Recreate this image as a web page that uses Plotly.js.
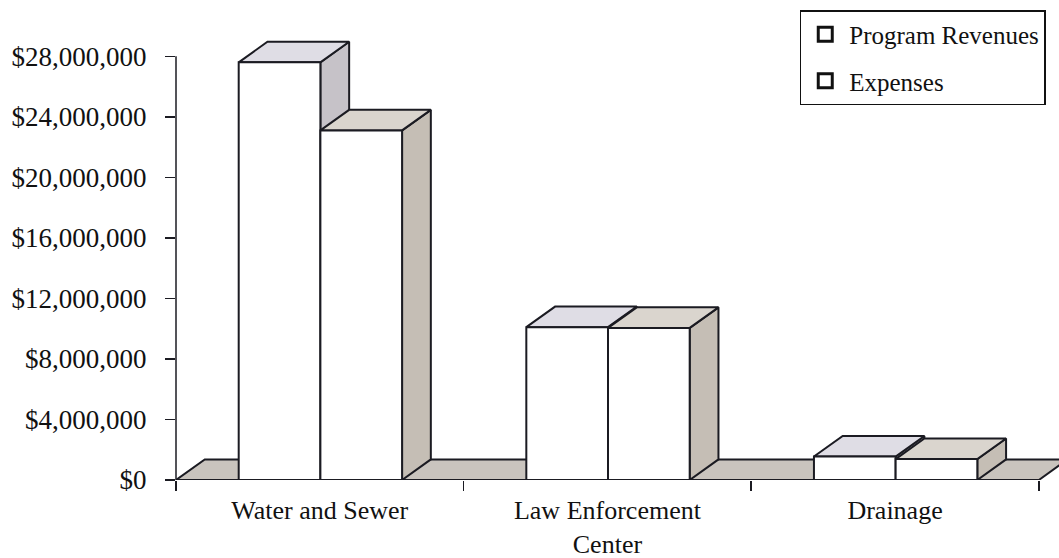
<!DOCTYPE html>
<html>
<head>
<meta charset="utf-8">
<script src="https://cdn.plot.ly/plotly-3.0.1.min.js"></script>
<style>
  html, body { margin: 0; padding: 0; background: #ffffff; }
  #chart { width: 1059px; height: 558px; }
</style>
</head>
<body>
<div id="chart"></div>
<script>
// ---- data ----
const categories = ['Water and Sewer', 'Law Enforcement<br>Center', 'Drainage'];
const seriesNames = ['Program Revenues', 'Expenses'];
const programRevenues = [27.6e6, 10.1e6, 1.55e6];
const expenses = [23.1e6, 10.05e6, 1.38e6];
const yTickValues = [0, 4e6, 8e6, 12e6, 16e6, 20e6, 24e6, 28e6];

// ---- styling / pseudo-3D geometry ----
const BAR_W = 0.284;      // bar width in category units
const DEPTH_X = 0.1;      // depth offset in category units
const DEPTH_Y = 1.36e6;   // depth offset in value units
const EDGE = '#1b1b22';
const FONT = 'Liberation Serif, Times New Roman, serif';

const catIdx = categories.map((_, i) => i);

function buildFaces(vals, offset) {
  const side = {x: [], y: []}, top = {x: [], y: []}, front = {x: [], y: []};
  vals.forEach((v, i) => {
    const xl = catIdx[i] + offset, xr = xl + BAR_W;
    side.x.push(xr, xr, xr + DEPTH_X, xr + DEPTH_X, xr, null);
    side.y.push(0, v, v + DEPTH_Y, DEPTH_Y, 0, null);
    top.x.push(xl, xl + DEPTH_X, xr + DEPTH_X, xr, xl, null);
    top.y.push(v, v + DEPTH_Y, v + DEPTH_Y, v, v, null);
    front.x.push(xl, xl, xr, xr, xl, null);
    front.y.push(0, v, v, 0, 0, null);
  });
  return {side, top, front};
}

function poly(pts, fill) {
  return {
    type: 'scatter', mode: 'lines', x: pts.x, y: pts.y,
    fill: 'toself', fillcolor: fill,
    line: {color: EDGE, width: 2},
    hoverinfo: 'skip', showlegend: false
  };
}

const n = categories.length;
const floor = {
  x: [-0.5, -0.5 + DEPTH_X, (n - 0.5) + DEPTH_X, n - 0.5, -0.5],
  y: [0, DEPTH_Y, DEPTH_Y, 0, 0]
};

const rev = buildFaces(programRevenues, -BAR_W + 0.002);
const exp = buildFaces(expenses, 0.002);

const traces = [
  poly(floor, '#c9c4be'),
  poly(rev.side, '#c6c2c8'),
  poly(rev.top, '#dfdde5'),
  poly(rev.front, '#ffffff'),
  poly(exp.side, '#c5beb5'),
  poly(exp.top, '#dad5ce'),
  poly(exp.front, '#ffffff'),
];

seriesNames.forEach((name, k) => {
  traces.push({
    type: 'scatter', mode: 'markers', x: [null], y: [null], name: name,
    legendgroup: 'g' + k,
    marker: {symbol: 'square', size: 14, color: '#ffffff', line: {color: '#111', width: 3}},
    hoverinfo: 'skip'
  });
});

const layout = {
  width: 1059, height: 558,
  margin: {l: 176, r: 0, t: 26, b: 78},
  paper_bgcolor: '#ffffff', plot_bgcolor: '#ffffff',
  font: {family: FONT, color: '#111', size: 26},
  showlegend: true,
  xaxis: {
    type: 'linear', range: [-0.5, n - 0.5 + 0.07],
    tickmode: 'array', tickvals: catIdx, ticktext: categories,
    ticks: 'outside', ticklen: 7, tickcolor: 'rgba(0,0,0,0)',
    ticklabelstandoff: 0,
    minor: {tickmode: 'array', tickvals: [-0.5, 0.5, 1.5, 2.5], ticks: 'outside', ticklen: 10, tickcolor: EDGE, tickwidth: 1.5},
    showgrid: false, zeroline: false, showline: false,
    tickfont: {family: FONT, size: 26, color: '#111'},
    fixedrange: true
  },
  yaxis: {
    range: [0, 30e6],
    tickmode: 'array', tickvals: yTickValues, tickformat: '$,.0f',
    ticks: 'outside', ticklen: 10, tickcolor: EDGE, tickwidth: 1.5,
    ticklabelstandoff: 13,
    showgrid: false, zeroline: false, showline: false,
    tickfont: {family: FONT, size: 27, color: '#111'},
    fixedrange: true
  },
  shapes: [{
    type: 'line', xref: 'paper', yref: 'y', x0: 0, x1: 0, y0: 0, y1: yTickValues[yTickValues.length - 1],
    line: {color: EDGE, width: 1.5}
  }],
  legend: {
    x: 0.985, xanchor: 'right', y: 1.035, yanchor: 'top',
    bgcolor: '#ffffff', bordercolor: '#111', borderwidth: 1.5,
    font: {family: FONT, size: 25, color: '#111'},
    itemwidth: 38,
    tracegroupgap: 11, traceorder: 'grouped'
  }
};

Plotly.newPlot('chart', traces, layout, {displayModeBar: false, staticPlot: true});
</script>
</body>
</html>
